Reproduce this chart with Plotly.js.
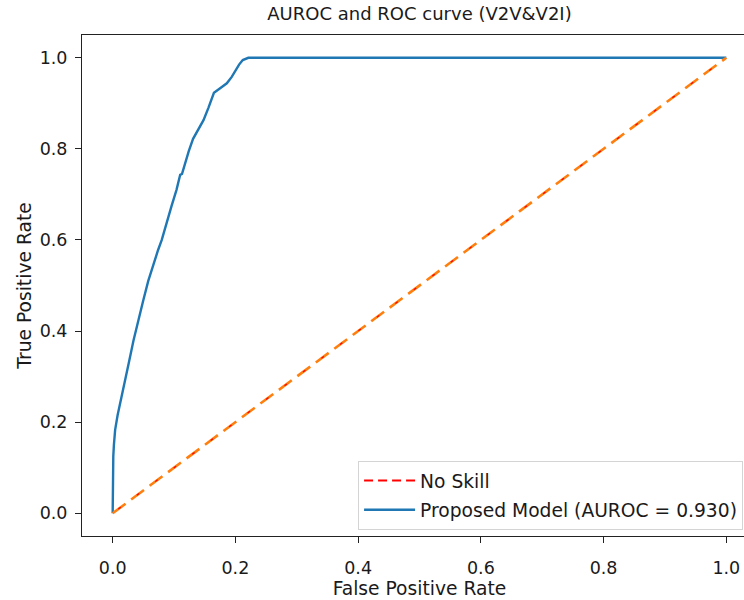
<!DOCTYPE html>
<html>
<head>
<meta charset="utf-8">
<script src="https://cdn.plot.ly/plotly-3.0.1.min.js"></script>
<style>
  html, body { margin: 0; padding: 0; overflow: hidden; background: #fff; }
  #chart { width: 775px; height: 600px; }
</style>
</head>
<body>
<div id="chart"></div>
<script>
// ROC curve of the proposed model (false positive rate vs true positive rate)
const modelFpr = [0, 0, 0.001, 0.002, 0.004, 0.008, 0.012, 0.018, 0.021, 0.027, 0.034, 0.041,
  0.050, 0.058, 0.066, 0.074, 0.080, 0.088, 0.096, 0.104, 0.110, 0.113, 0.118, 0.124, 0.131,
  0.140, 0.148, 0.156, 0.162, 0.165, 0.174, 0.186, 0.194, 0.200, 0.206, 0.212, 0.218, 0.221, 1.0];
const modelTpr = [0, 0.103, 0.125, 0.150, 0.183, 0.215, 0.240, 0.272, 0.293, 0.335, 0.380, 0.420,
  0.468, 0.510, 0.545, 0.578, 0.600, 0.640, 0.675, 0.710, 0.743, 0.745, 0.770, 0.795, 0.822,
  0.845, 0.863, 0.890, 0.912, 0.923, 0.932, 0.944, 0.958, 0.972, 0.985, 0.995, 0.998, 1.0, 1.0];

// chance-level diagonal
const noSkillFpr = [0, 1];
const noSkillTpr = [0, 1];

const modelLabel = 'Proposed Model (AUROC = 0.930)';
const noSkillLabel = 'No Skill';
const titleText = 'AUROC and ROC curve (V2V&V2I)';
const tickVals = [0, 0.2, 0.4, 0.6, 0.8, 1.0];

const FONT = 'DejaVu Sans, Liberation Sans, sans-serif';
const INK = '#1a1a1a';

const traces = [
  // legend entry for the red dashed reference line
  {
    x: [null], y: [null], type: 'scatter', mode: 'lines', name: noSkillLabel,
    legendgroup: 'a',
    line: { color: 'red', width: 2, dash: '9px,5px' }, hoverinfo: 'skip'
  },
  {
    x: modelFpr, y: modelTpr, type: 'scatter', mode: 'lines', name: modelLabel,
    legendgroup: 'b',
    line: { color: '#1f77b4', width: 2.4 }
  },
  {
    x: noSkillFpr, y: noSkillTpr, type: 'scatter', mode: 'lines', showlegend: false,
    line: { color: '#ff7f0e', width: 2.6, dash: '16px,7px' }, hoverinfo: 'skip'
  },
  {
    x: noSkillFpr, y: noSkillTpr, type: 'scatter', mode: 'lines', showlegend: false,
    line: { color: 'red', width: 1.2, dash: '0px,7px,3px,13px' }, hoverinfo: 'skip'
  }
];

const axisCommon = {
  range: [-0.05, 1.05],
  tickvals: tickVals,
  tickformat: '.1f',
  ticks: 'outside',
  ticklen: 6,
  tickwidth: 1,
  tickcolor: '#222',
  showline: true,
  linecolor: '#222',
  linewidth: 1,
  mirror: true,
  showgrid: false,
  zeroline: false,
  tickfont: { family: FONT, size: 17.5, color: INK }
};

const layout = {
  width: 775,
  height: 600,
  margin: { l: 82, r: 18, t: 35, b: 63.5 },
  paper_bgcolor: '#fff',
  plot_bgcolor: '#fff',
  font: { family: FONT, color: INK },
  title: {
    text: titleText,
    font: { family: FONT, size: 18, color: INK },
    x: 0.5, xref: 'paper', xanchor: 'center',
    y: 1 - 14 / 600, yref: 'container', yanchor: 'middle'
  },
  xaxis: Object.assign({}, axisCommon, {
    ticklabelstandoff: 10,
    title: { text: 'False Positive Rate', standoff: 0, font: { family: FONT, size: 18.7, color: INK } }
  }),
  yaxis: Object.assign({}, axisCommon, {
    ticklabelstandoff: 4,
    title: { text: 'True Positive Rate', standoff: 3, font: { family: FONT, size: 18.7, color: INK } }
  }),
  showlegend: true,
  legend: {
    x: 0.409, xanchor: 'left',
    y: 0.15, yanchor: 'top',
    bgcolor: 'rgba(255,255,255,0.8)',
    bordercolor: '#d4d4d4',
    borderwidth: 1,
    tracegroupgap: 2,
    itemwidth: 51,
    font: { family: FONT, size: 18.7, color: INK }
  }
};

Plotly.newPlot('chart', traces, layout, { staticPlot: true, displayModeBar: false });
</script>
</body>
</html>
